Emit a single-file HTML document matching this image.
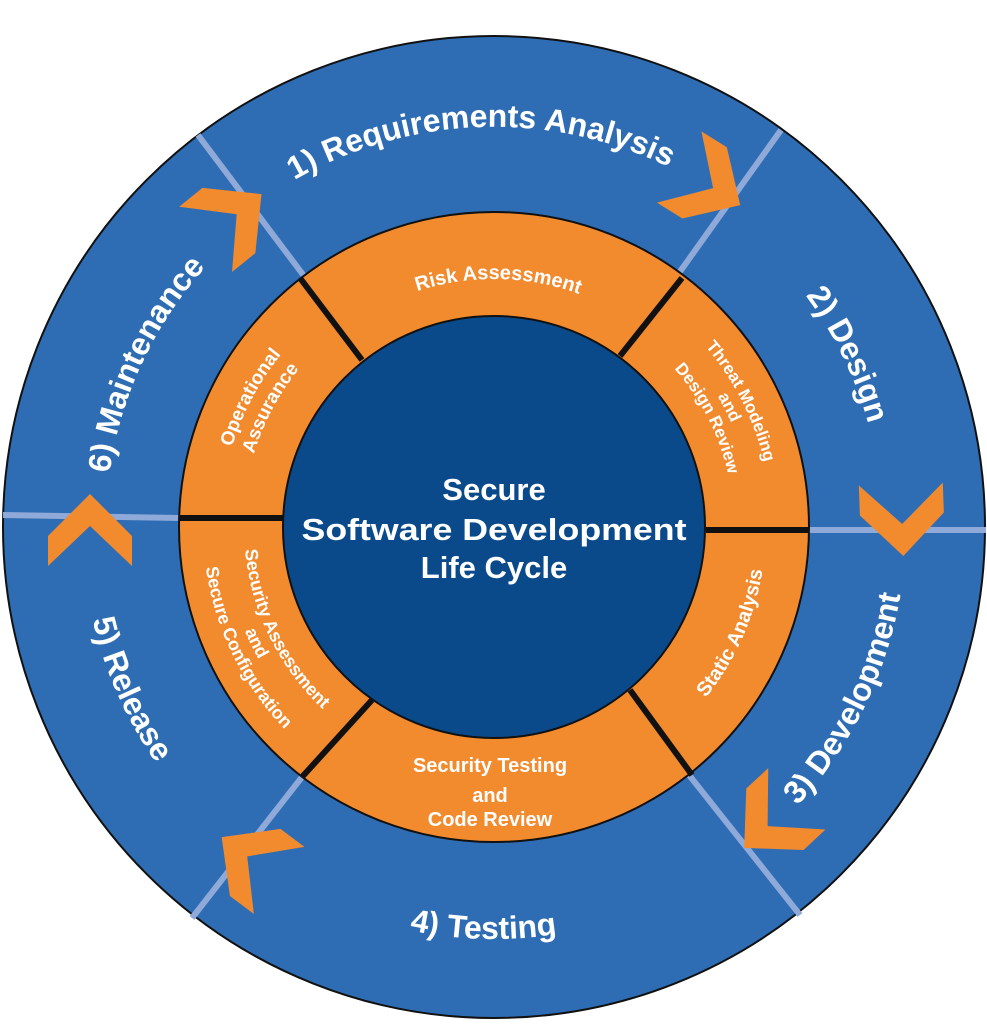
<!DOCTYPE html>
<html><head><meta charset="utf-8"><style>html,body{margin:0;padding:0;background:#fff}svg{display:block}text{font-family:"Liberation Sans",sans-serif;font-weight:bold;fill:#fff}</style></head>
<body>
<svg width="987" height="1024" viewBox="0 0 987 1024" xmlns="http://www.w3.org/2000/svg">
<defs>
<path id="cw400" d="M894,527 A400,400 0 1 1 94,527 A400,400 0 1 1 894,527"/>
<path id="cw388" d="M882,527 A388,388 0 1 1 106,527 A388,388 0 1 1 882,527"/>
<path id="ccw412" d="M906,527 A412,412 0 1 0 82,527 A412,412 0 1 0 906,527"/>
<path id="cw248" d="M742,527 A248,248 0 1 1 246,527 A248,248 0 1 1 742,527"/>
<path id="cw278" d="M772,527 A278,278 0 1 1 216,527 A278,278 0 1 1 772,527"/>
<path id="cw259" d="M753,527 A259,259 0 1 1 235,527 A259,259 0 1 1 753,527"/>
<path id="cw240" d="M734,527 A240,240 0 1 1 254,527 A240,240 0 1 1 734,527"/>
<path id="cw274" d="M768,527 A274,274 0 1 1 220,527 A274,274 0 1 1 768,527"/>
<path id="cw251" d="M745,527 A251,251 0 1 1 243,527 A251,251 0 1 1 745,527"/>
<path id="ccw272" d="M766,527 A272,272 0 1 0 222,527 A272,272 0 1 0 766,527"/>
<path id="ccw250" d="M744,527 A250,250 0 1 0 244,527 A250,250 0 1 0 744,527"/>
<path id="ccw270b" d="M764,527 A270,270 0 1 0 224,527 A270,270 0 1 0 764,527"/>
<path id="ccw291" d="M785,527 A291,291 0 1 0 203,527 A291,291 0 1 0 785,527"/>
<polygon id="chev" points="-42,-34 0,6 42,-34 42,-4 0,38 -42,-4" fill="#f28a2e"/>
</defs>
<circle cx="494" cy="527" r="491" fill="#2e6db4" stroke="#111" stroke-width="2"/>
<g stroke="#8fa9d8" stroke-width="6">
<line x1="304" y1="276" x2="198" y2="135"/>
<line x1="679" y1="273" x2="781" y2="130"/>
<line x1="808" y1="530" x2="986" y2="530"/>
<line x1="689" y1="775" x2="800" y2="915"/>
<line x1="302" y1="777" x2="192" y2="918"/>
<line x1="180" y1="518" x2="3" y2="515"/>
</g>
<circle cx="494" cy="527" r="315" fill="#f28a2e" stroke="#111" stroke-width="2"/>
<g stroke="#111" stroke-width="6">
<line x1="300" y1="278" x2="362" y2="360"/>
<line x1="682" y1="278" x2="620" y2="356"/>
<line x1="706" y1="530" x2="809" y2="530"/>
<line x1="630" y1="690" x2="692" y2="775"/>
<line x1="372" y1="700" x2="302" y2="777"/>
<line x1="180" y1="518" x2="284" y2="518"/>
</g>
<circle cx="494" cy="527" r="211" fill="#0b4a8a" stroke="#111" stroke-width="2"/>
<use href="#chev" transform="translate(902,518) rotate(-2)"/>
<use href="#chev" transform="translate(708,185) rotate(-58)"/>
<use href="#chev" transform="translate(772,822) rotate(47)"/>
<use href="#chev" transform="translate(252,860) rotate(127)"/>
<use href="#chev" transform="translate(90,532) rotate(180)"/>
<use href="#chev" transform="translate(232,218) rotate(-129)"/>
<g transform="rotate(-2 494 527)"><text font-size="32"><textPath href="#cw400" startOffset="75%" text-anchor="middle">1) Requirements Analysis</textPath></text></g>
<g transform="rotate(64 494 527)"><text font-size="32"><textPath href="#cw388" startOffset="75%" text-anchor="middle">2) Design</textPath></text></g>
<g transform="rotate(-65 494 527)"><text font-size="32"><textPath href="#cw388" startOffset="75%" text-anchor="middle">6) Maintenance</textPath></text></g>
<g transform="rotate(-64 494 527)"><text font-size="32"><textPath href="#ccw412" startOffset="75%" text-anchor="middle">3) Development</textPath></text></g>
<g transform="rotate(1.5 494 527)"><text font-size="32"><textPath href="#ccw412" startOffset="75%" text-anchor="middle">4) Testing</textPath></text></g>
<g transform="rotate(66 494 527)"><text font-size="32"><textPath href="#ccw412" startOffset="75%" text-anchor="middle">5) Release</textPath></text></g>
<g transform="rotate(1 494 527)"><text font-size="20"><textPath href="#cw248" startOffset="75%" text-anchor="middle">Risk Assessment</textPath></text></g>
<g transform="rotate(63 494 527)" font-size="17">
<text><textPath href="#cw278" startOffset="75%" text-anchor="middle">Threat Modeling</textPath></text>
<text><textPath href="#cw259" startOffset="75%" text-anchor="middle">and</textPath></text>
<text><textPath href="#cw240" startOffset="75%" text-anchor="middle">Design Review</textPath></text>
</g>
<g transform="rotate(-62 494 527)" font-size="19">
<text><textPath href="#cw274" startOffset="75%" text-anchor="middle">Operational</textPath></text>
<text><textPath href="#cw251" startOffset="75%" text-anchor="middle">Assurance</textPath></text>
</g>
<g transform="rotate(-66 494 527)"><text font-size="20"><textPath href="#ccw272" startOffset="75%" text-anchor="middle">Static Analysis</textPath></text></g>
<g transform="rotate(64 494 527)" font-size="18">
<text><textPath href="#ccw250" startOffset="75%" text-anchor="middle">Security Assessment</textPath></text>
<text><textPath href="#ccw270b" startOffset="75%" text-anchor="middle">and</textPath></text>
<text><textPath href="#ccw291" startOffset="75%" text-anchor="middle">Secure Configuration</textPath></text>
</g>
<g font-size="20" text-anchor="middle">
<text x="490" y="772">Security Testing</text>
<text x="490" y="802">and</text>
<text x="490" y="826">Code Review</text>
</g>
<g font-size="31" text-anchor="middle">
<text x="494" y="500">Secure</text>
<text x="494" y="540" textLength="385" lengthAdjust="spacingAndGlyphs">Software Development</text>
<text x="494" y="578">Life Cycle</text>
</g>
</svg>
</body></html>
